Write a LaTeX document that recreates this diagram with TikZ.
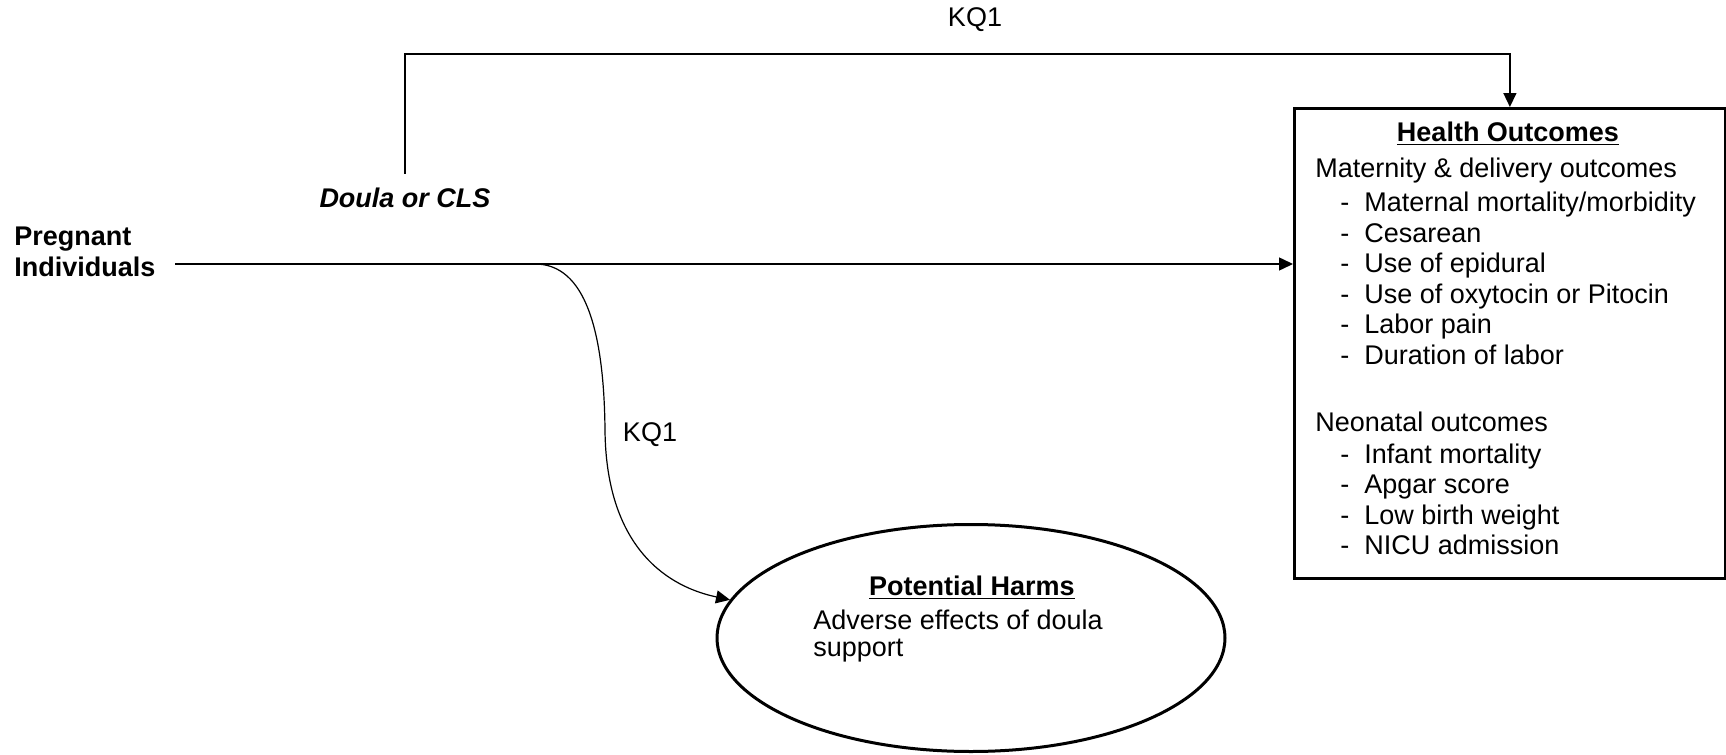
\documentclass[tikz,border=0pt]{standalone}
\usepackage{fontspec}
\setmainfont{Liberation Sans}
\usetikzlibrary{arrows.meta,shapes.geometric,positioning}

\newcommand{\outitem}[1]{\hspace*{12.5pt}\makebox[12pt][l]{-}#1}

\begin{document}
\begin{tikzpicture}[x=0.5pt,y=-0.5pt,
    txt/.style={inner sep=0pt, font=\fontsize{13.5}{15.3}\selectfont},
    arr/.style={line width=0.75pt, -{Triangle[length=7pt,width=6.5pt]}},
    outbox/.style={draw, line width=1.4pt, minimum width=215.5pt, minimum height=235pt, inner sep=0pt},
    harmbox/.style={draw, ellipse, line width=1.5pt, minimum width=254pt, minimum height=113.5pt, inner sep=0pt}]
    \useasboundingbox (0,0) rectangle (1726,755);

    % Define the nodes
    \node[txt, anchor=west, align=left] (pregnant) at (14,252) {\textbf{Pregnant}\\\textbf{Individuals}};
    \node[txt] (doula) at (405,198) {\textbf{\textit{Doula or CLS}}};
    \node[outbox, anchor=north west] (outcomes) at (1293,107) {};
    \node[harmbox] (harms) at (971,638) {};

    % Fill the outcome box
    \node[txt] (outtitle) at (1508,134) {\underline{\textbf{Health Outcomes}}};
    \node[txt, anchor=north west, align=left] (outlist) at (1315,158) {Maternity \& delivery outcomes\\[1.5pt]
        \outitem{Maternal mortality/morbidity}\\
        \outitem{Cesarean}\\
        \outitem{Use of epidural}\\
        \outitem{Use of oxytocin or Pitocin}\\
        \outitem{Labor pain}\\
        \outitem{Duration of labor}\\[18.2pt]
        Neonatal outcomes\\[0.5pt]
        \outitem{Infant mortality}\\
        \outitem{Apgar score}\\
        \outitem{Low birth weight}\\
        \outitem{NICU admission}};

    % Fill the harms ellipse
    \node[txt] (harmtitle) at (972,588) {\underline{\textbf{Potential Harms}}};
    \node[txt, anchor=north west, align=left, font=\fontsize{13.5}{13.5}\selectfont] (harmtext) at (813,610) {Adverse effects of doula\\support};

    % Define the connector points
    \coordinate (start) at (175,264);
    \coordinate (split) at (535,264);
    \coordinate (rail) at (405,54);

    % Draw the connectors
    \draw[arr] (start) -- (start -| outcomes.west);
    \draw[arr] ([yshift=7pt]doula.north) -- (rail) -| (outcomes.north);
    \draw[arr, line width=0.6pt] (split) .. controls (585,264) and (604,330) .. (605,430)
        .. controls (606,540) and (660,585) .. (harms.171);

    % Label the arrows
    \node[txt] (kqtop) at (975,20) {KQ1};
    \node[txt] (kqharm) at (650,435) {KQ1};
\end{tikzpicture}
\end{document}
